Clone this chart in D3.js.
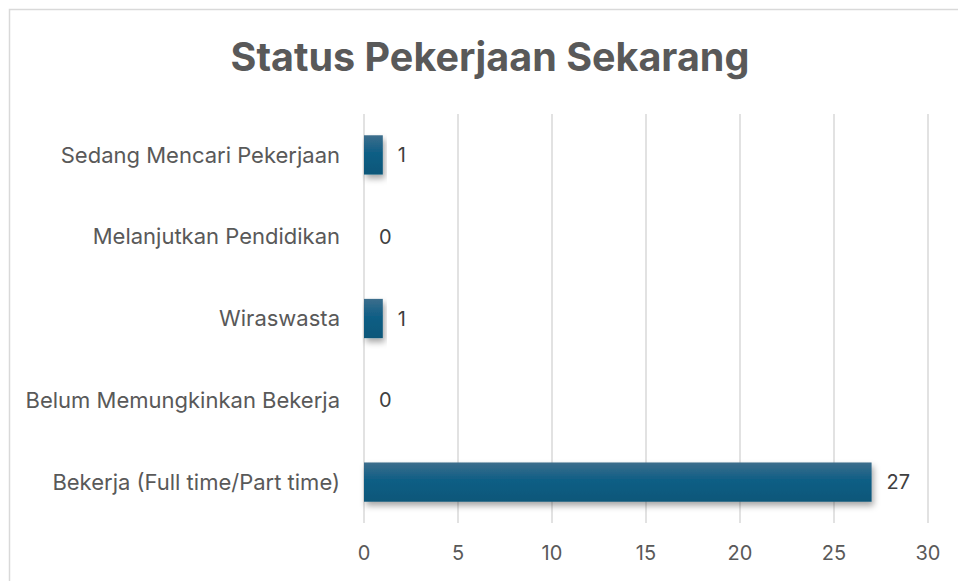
<!doctype html>
<html>
<head>
<meta charset="utf-8">
<script src="https://cdn.jsdelivr.net/npm/d3@7/dist/d3.min.js"></script>
<style>
  body { margin: 0; background: #fff; }
  svg { display: block; font-family: Inter, "Open Sans", sans-serif; }
</style>
</head>
<body>
<svg width="958" height="581"></svg>
<script>
// data, bottom category first like the original
var categories = ["Bekerja (Full time/Part time)", "Belum Memungkinkan Bekerja", "Wiraswasta", "Melanjutkan Pendidikan", "Sedang Mencari Pekerjaan"];
var values = [27, 0, 1, 0, 1];
var xTicks = [0, 5, 10, 15, 20, 25, 30];

var svg = d3.select("svg");

// chart frame (right and bottom run off the picture)
svg.append("rect")
  .attr("x", 9.5).attr("y", 9.5)
  .attr("width", 970).attr("height", 600)
  .style("fill", "#fff").style("stroke", "#d9d9d9").style("stroke-width", 1.5);

svg.append("text")
  .attr("x", 490).attr("y", 71)
  .attr("text-anchor", "middle")
  .style("font-size", "39.5px").style("font-weight", "bold").style("fill", "#595959")
  .text("Status Pekerjaan Sekarang");

var x = d3.scaleLinear().domain([0, 30]).range([364, 928]);
var y = d3.scaleBand().domain(categories.slice().reverse()).range([114, 523]).paddingInner(0.52).paddingOuter(0.26);

var defs = svg.append("defs");
var grad = defs.append("linearGradient").attr("id", "barGrad").attr("x1", 0).attr("y1", 0).attr("x2", 0).attr("y2", 1);
grad.append("stop").attr("offset", "0%").attr("stop-color", "#3d6e8c");
grad.append("stop").attr("offset", "45%").attr("stop-color", "#0f5e85");
grad.append("stop").attr("offset", "100%").attr("stop-color", "#0b5779");
var shadow = defs.append("filter").attr("id", "shadow").attr("x", "-10%").attr("y", "-30%").attr("width", "130%").attr("height", "180%");
shadow.append("feDropShadow").attr("dx", 2).attr("dy", 4).attr("stdDeviation", 3).attr("flood-color", "#000").attr("flood-opacity", 0.35);

// gridlines
svg.append("g").selectAll("line")
  .data(xTicks)
  .enter().append("line")
  .attr("x1", d => x(d)).attr("x2", d => x(d))
  .attr("y1", 114).attr("y2", 523)
  .style("stroke", "#d9d9d9").style("stroke-width", 1.5);

// tick labels
svg.append("g").selectAll("text")
  .data(xTicks)
  .enter().append("text")
  .attr("x", d => x(d)).attr("y", 560)
  .attr("text-anchor", "middle")
  .style("font-size", "20px").style("fill", "#595959")
  .text(d => d);

// category labels
svg.append("g").selectAll("text")
  .data(categories)
  .enter().append("text")
  .attr("x", 340).attr("y", d => y(d) + y.bandwidth() / 2)
  .attr("dy", "0.35em")
  .attr("text-anchor", "end")
  .style("font-size", "22px").style("fill", "#595959")
  .text(d => d);

// bars
svg.append("g").selectAll("rect")
  .data(values)
  .enter().append("rect")
  .attr("x", x(0))
  .attr("y", (d, i) => y(categories[i]))
  .attr("width", d => x(d) - x(0))
  .attr("height", y.bandwidth())
  .style("fill", "url(#barGrad)")
  .attr("filter", "url(#shadow)");

// value labels
svg.append("g").selectAll("text")
  .data(values)
  .enter().append("text")
  .attr("x", d => x(d) + 15)
  .attr("y", (d, i) => y(categories[i]) + y.bandwidth() / 2)
  .attr("dy", "0.35em")
  .style("font-size", "20px").style("fill", "#404040")
  .text(d => d);
</script>
</body>
</html>
